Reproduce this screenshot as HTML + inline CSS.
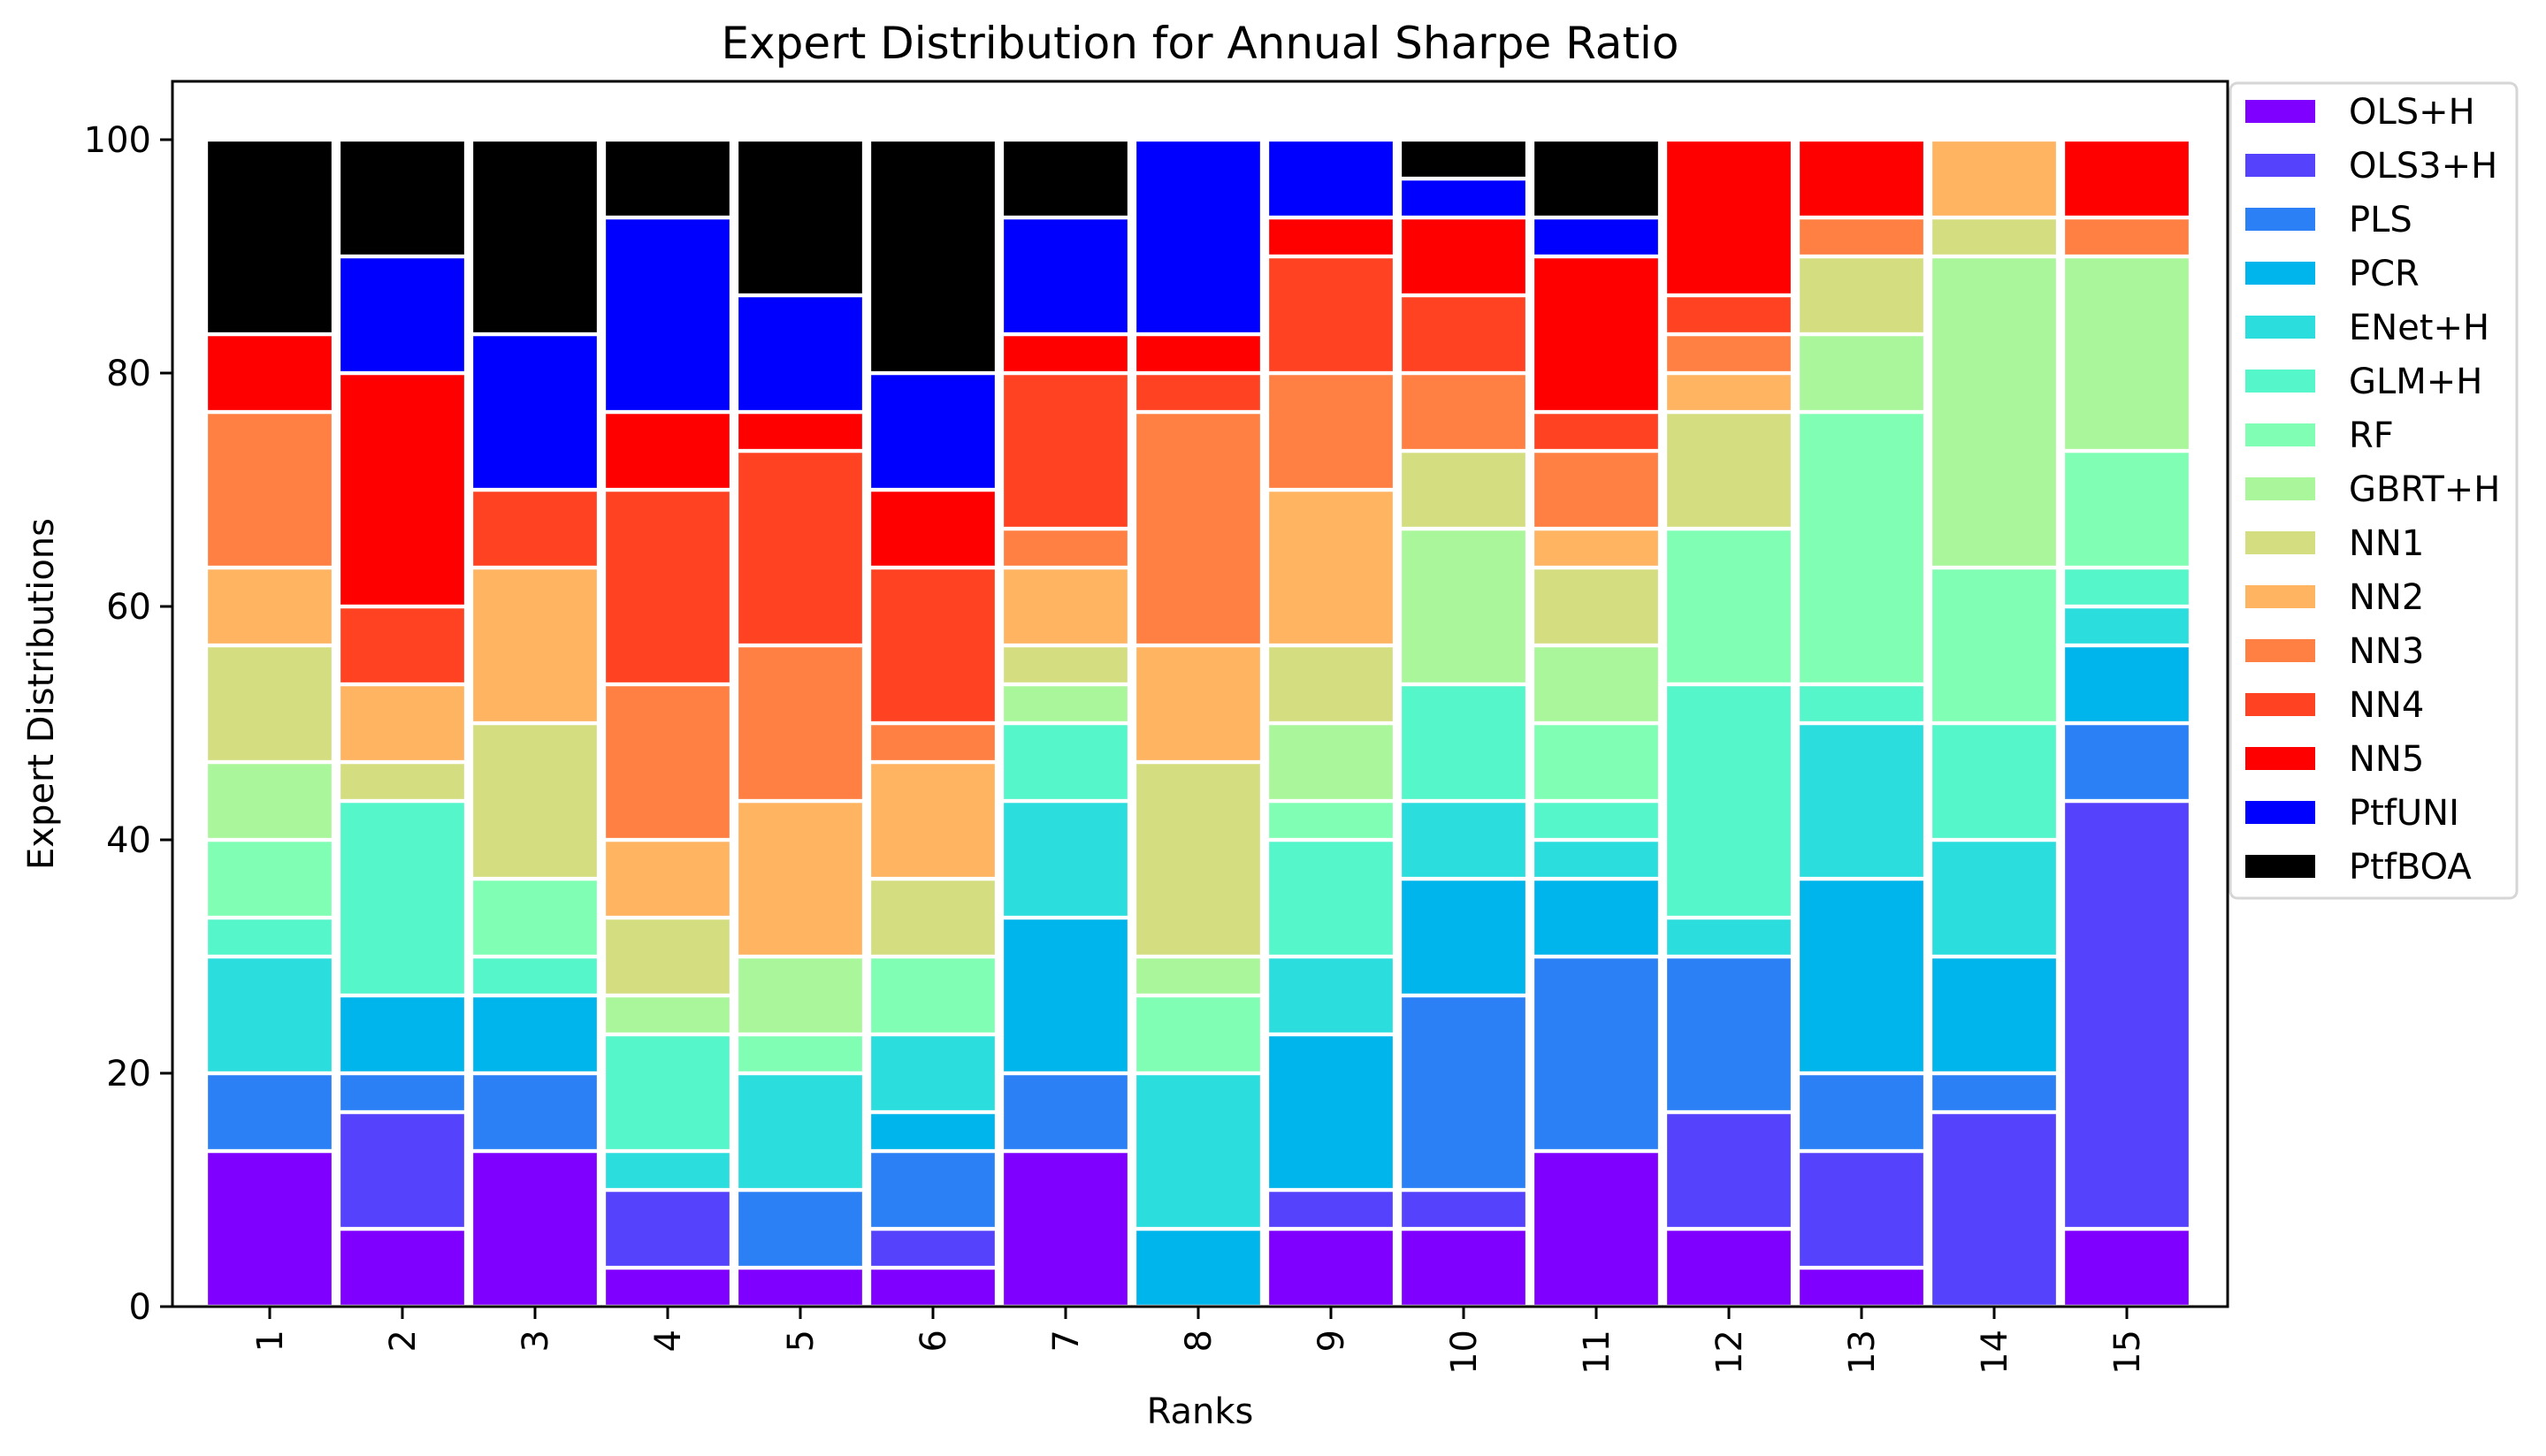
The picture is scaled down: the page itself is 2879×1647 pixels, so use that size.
<!DOCTYPE html>
<html><head><meta charset="utf-8">
<style>
html,body{margin:0;padding:0;background:#fff;}
svg{display:block;font-family:"DejaVu Sans","Liberation Sans",sans-serif;}
</style></head>
<body>
<svg id="chart" width="2879" height="1647" viewBox="0 0 2879 1647" xmlns="http://www.w3.org/2000/svg">
<rect x="0" y="0" width="2879" height="1647" fill="#fff"/>
<text x="1357" y="66" font-size="50" text-anchor="middle">Expert Distribution for Annual Sharpe Ratio</text>
<g id="bars"></g>
<g id="axes"></g>
<text x="1357" y="1610" font-size="40" text-anchor="middle">Ranks</text>
<text x="0" y="0" font-size="40" text-anchor="middle" transform="translate(60,785) rotate(-90)">Expert Distributions</text>
<g id="legend"></g>
</svg>
<script>
const ranks = [1,2,3,4,5,6,7,8,9,10,11,12,13,14,15];
const seriesNames = ["OLS+H","OLS3+H","PLS","PCR","ENet+H","GLM+H","RF","GBRT+H","NN1","NN2","NN3","NN4","NN5","PtfUNI","PtfBOA"];
const totalExperts = 30;
const olsH   = [4,2,4,1,1,1,4,0,2,2,4,2,1,0,2];
const ols3H  = [0,3,0,2,0,1,0,0,1,1,0,3,3,5,11];
const pls    = [2,1,2,0,2,2,2,0,0,5,5,4,2,1,2];
const pcr    = [0,2,2,0,0,1,4,2,4,3,2,0,5,3,2];
const enetH  = [3,0,0,1,3,2,3,4,2,2,1,1,4,3,1];
const glmH   = [1,5,1,3,0,0,2,0,3,3,1,6,1,3,1];
const rf     = [2,0,2,0,1,2,0,2,1,0,2,4,7,4,3];
const gbrtH  = [2,0,0,1,2,0,1,1,2,4,2,0,2,8,5];
const nn1    = [3,1,4,2,0,2,1,5,2,2,2,3,2,1,0];
const nn2    = [2,2,4,2,4,3,2,3,4,0,1,1,0,2,0];
const nn3    = [4,0,0,4,4,1,1,6,3,2,2,1,1,0,1];
const nn4    = [0,2,2,5,5,4,4,1,3,2,1,1,0,0,0];
const nn5    = [2,6,0,2,1,2,1,1,1,2,4,4,2,0,2];
const ptfUni = [0,3,4,5,3,3,3,5,2,1,1,0,0,0,0];
const ptfBoa = [5,3,5,2,4,6,2,0,0,1,2,0,0,0,0];
const yTicks = [0,20,40,60,80,100];

const series = [olsH,ols3H,pls,pcr,enetH,glmH,rf,gbrtH,nn1,nn2,nn3,nn4,nn5,ptfUni,ptfBoa];
const colors = ["#8000ff","#5542fd","#2b80f6","#00b4ec","#2bdddd","#55f6ca","#80ffb4","#aaf69b","#d4dd80","#ffb462","#ff8042","#ff4221","#ff0000","#0000ff","#000000"];
const NS = "http://www.w3.org/2000/svg";
const L=195, R=2519, T=92, B=1478;
const xScale = v => 305 + (v-1)*150;
const yScale = v => 1478 - v*13.2;
function mk(tag, attrs, parent){const e=document.createElementNS(NS,tag);for(const k in attrs)e.setAttribute(k,attrs[k]);parent.appendChild(e);return e;}

const gb = document.getElementById('bars');
ranks.forEach((r,i)=>{
  let cum = 0;
  series.forEach((s,j)=>{
    const v = s[i]/totalExperts*100;
    if(v>0){
      const y0=yScale(cum), y1=yScale(cum+v);
      const rc = mk('rect',{x:xScale(r)-72,y:y1,width:144,height:y0-y1,fill:colors[j],stroke:'#fff','stroke-width':4.3},gb);
      
      
    }
    cum += v;
  });
});

const ga = document.getElementById('axes');
const frame = mk('rect',{x:L,y:T,width:R-L,height:B-T,fill:'none',stroke:'#000','stroke-width':3},ga);


yTicks.forEach(t=>{
  const y=yScale(t);
  mk('line',{x1:L-14,x2:L,y1:y,y2:y,stroke:'#000','stroke-width':3},ga);
  const tx = mk('text',{x:L-24,y:y+14,'font-size':40,'text-anchor':'end'},ga);
  tx.textContent=t;
  
  
});
ranks.forEach(r=>{
  const x=xScale(r);
  mk('line',{x1:x,x2:x,y1:B,y2:B+14,stroke:'#000','stroke-width':3},ga);
  const tx = mk('text',{x:0,y:0,'font-size':40,'text-anchor':'end',transform:`translate(${x+14},${B+26}) rotate(-90)`},ga);
  tx.textContent=r;
  
  
});

const gl = document.getElementById('legend');
const box = mk('rect',{x:2522,y:94,width:324,height:922,rx:8,fill:'#fff',stroke:'#d6d6d6','stroke-width':3},gl);


seriesNames.forEach((n,j)=>{
  const cy = 126 + j*61;
  const p = mk('rect',{x:2539,y:cy-13,width:79,height:26,fill:colors[j]},gl);
  
  
  const tx = mk('text',{x:2656,y:cy+14,'font-size':40},gl);
  tx.textContent=n;
  
  
});
</script>
</body></html>
